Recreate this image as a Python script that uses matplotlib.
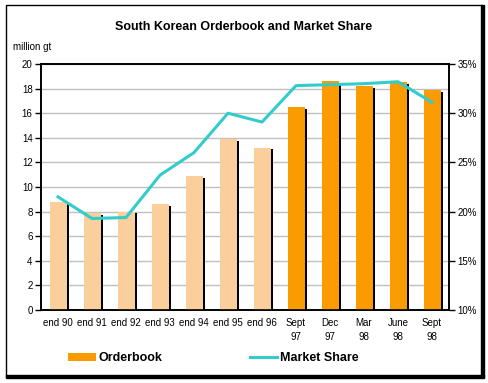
import matplotlib.pyplot as plt
from matplotlib.patches import Patch, Rectangle
from matplotlib.lines import Line2D

plt.rcParams['font.family'] = ['Liberation Sans', 'DejaVu Sans']

# data
periods = ['end 90', 'end 91', 'end 92', 'end 93', 'end 94', 'end 95', 'end 96',
           'Sept\n97', 'Dec\n97', 'Mar\n98', 'June\n98', 'Sept\n98']
orderbook = [8.8, 7.9, 8.0, 8.6, 10.9, 13.9, 13.2, 16.5, 18.6, 18.2, 18.5, 17.9]
market_share = [21.5, 19.3, 19.4, 23.7, 26.0, 30.0, 29.1, 32.8, 32.9, 33.0, 33.2, 31.1]
n_annual = 7  # first seven are year-end figures (lighter colour)

light = '#FBCF9C'
orange = '#FA9B00'
teal = '#33CCCC'

fig = plt.figure(figsize=(4.88, 3.83), dpi=100)
fig.patch.set_facecolor('white')
ax = fig.add_axes([41 / 488, 1 - 310 / 383, 408 / 488, 246 / 383])

x = list(range(len(periods)))
colors = [light if i < n_annual else orange for i in x]

# black drop shadow behind each bar
ax.bar([i + 0.08 for i in x], [v - 0.15 for v in orderbook], width=0.5,
       color='black', zorder=2)
ax.bar(x, orderbook, width=0.5, color=colors, zorder=3)

ax.set_xlim(-0.5, len(periods) - 0.5)
ax.set_ylim(0, 20)
ax.set_yticks(range(0, 21, 2))
ax.yaxis.grid(True, color='#C0C0C0', linewidth=1)
ax.set_axisbelow(True)
ax.set_xticks(x)
ax.set_xticklabels(periods, fontsize=7, linespacing=1.4, va='top')
ax.tick_params(axis='x', length=0, pad=6)
ax.tick_params(axis='y', labelsize=7, length=4, width=1, direction='out', pad=2)
for s in ax.spines.values():
    s.set_linewidth(1.2)

ax2 = ax.twinx()
ax2.plot(x, market_share, color=teal, linewidth=2.2, zorder=5)
ax2.set_ylim(10, 35)
ax2.set_yticks(range(10, 36, 5))
ax2.set_yticklabels([f'{v}%' for v in range(10, 36, 5)])
ax2.tick_params(axis='y', labelsize=7, length=4, width=1, direction='out', pad=2)
for s in ax2.spines.values():
    s.set_linewidth(1.2)

fig.text(244 / 488, 1 - 27 / 383, 'South Korean Orderbook and Market Share',
         ha='center', va='center', fontsize=9, fontweight='bold')
fig.text(13 / 488, 1 - 47 / 383, 'million gt', ha='left', va='center', fontsize=7)

handles = [Patch(facecolor=orange, edgecolor='none'),
           Line2D([0], [0], color=teal, linewidth=2.2)]
fig.legend(handles, ['Orderbook', 'Market Share'], loc='center left',
           bbox_to_anchor=(57 / 488, 1 - 358 / 383), ncol=2, frameon=False,
           prop={'weight': 'bold', 'size': 9}, handlelength=2.2,
           handleheight=0.6, handletextpad=0.2, columnspacing=7)

# outer frame with heavier right/bottom edge
fig.patches.append(Rectangle((6 / 488, 6 / 383), 476 / 488, 372 / 383,
                             transform=fig.transFigure, fill=False,
                             edgecolor='black', linewidth=1))
fig.patches.append(Rectangle((481 / 488, 6 / 383), 3 / 488, 372 / 383,
                             transform=fig.transFigure, color='black'))
fig.patches.append(Rectangle((6 / 488, 5 / 383), 478 / 488, 3 / 383,
                             transform=fig.transFigure, color='black'))

fig.savefig('out.png', dpi=100)
